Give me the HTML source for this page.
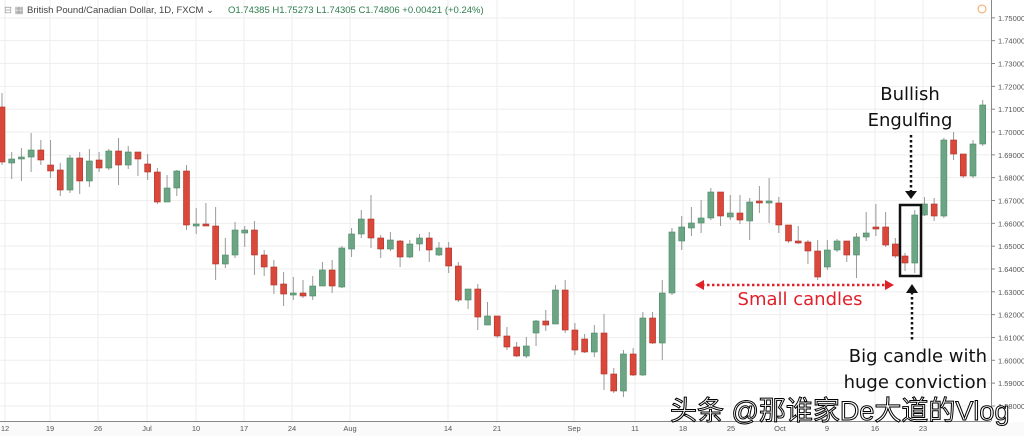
<!DOCTYPE html>
<html><head><meta charset="utf-8"><style>
body{margin:0;background:#fff;width:1024px;height:436px;overflow:hidden}
svg{display:block}
</style></head><body>
<svg id="s" width="1024" height="436" xmlns="http://www.w3.org/2000/svg" font-family="Liberation Sans, sans-serif">
<rect width="1024" height="436" fill="#fff"/>
<g id="grid"></g>
<g id="candles"></g>
<line x1="991.5" y1="0" x2="991.5" y2="421" stroke="#888" stroke-width="1"/>
<line x1="0" y1="421.5" x2="991" y2="421.5" stroke="#888" stroke-width="1"/>
<rect x="0" y="422" width="1024" height="14" fill="#fafafa"/>
<g id="labels" font-size="7.5" fill="#555"></g>
<text x="4" y="13" font-size="9.5" fill="#999">⊟ ▦</text>
<text x="27" y="13" font-size="9.5" fill="#444">British Pound/Canadian Dollar, 1D, FXCM ⌄</text>
<text x="228" y="13" font-size="9.5" fill="#2e7d4f">O1.74385  H1.75273  L1.74305  C1.74806  +0.00421 (+0.24%)</text>
<circle cx="982" cy="9" r="4" fill="none" stroke="#f2a45c" stroke-width="1"/>
<g font-family="DejaVu Sans, sans-serif">
<text x="910" y="100" font-size="18" text-anchor="middle" fill="#111">Bullish</text>
<text x="910" y="126" font-size="18" text-anchor="middle" fill="#111">Engulfing</text>
<text x="800" y="305" font-size="18" text-anchor="middle" fill="#e0202a">Small candles</text>
<text x="987" y="362" font-size="18" text-anchor="end" fill="#111">Big candle with</text>
<text x="987" y="388" font-size="18" text-anchor="end" fill="#111">huge conviction</text>
</g>
<line x1="911" y1="135" x2="911" y2="192" stroke="#111" stroke-width="2.5" stroke-dasharray="2.5,2.5"/>
<polygon points="905,191 917,191 911,199" fill="#111"/>
<rect x="900" y="205" width="21" height="71" fill="none" stroke="#111" stroke-width="2.5"/>
<polygon points="906,293 918,293 912,284" fill="#111"/>
<line x1="912" y1="292" x2="912" y2="342" stroke="#111" stroke-width="2.5" stroke-dasharray="2.5,2.5"/>
<line x1="702" y1="285" x2="887" y2="285" stroke="#e0202a" stroke-width="2.5" stroke-dasharray="2.5,2.5"/>
<polygon points="695,285 704,280 704,290" fill="#e0202a"/>
<polygon points="894,285 885,280 885,290" fill="#e0202a"/>
<text x="670" y="420" font-size="27" fill="#fff" stroke="#000" stroke-width="1" font-family="Liberation Sans, Noto Sans CJK SC, sans-serif">头条 @那谁家De大道的Vlog</text>
</svg>
<script>
const NS="http://www.w3.org/2000/svg";
function el(p,t,a,txt){const e=document.createElementNS(NS,t);for(const k in a)e.setAttribute(k,a[k]);if(txt)e.textContent=txt;p.appendChild(e);return e;}
const g=document.getElementById('grid'),L=document.getElementById('labels'),C=document.getElementById('candles');
const yp=p=>132+(1.70-p)*2283;
for(let i=0;i<=17;i++){const p=1.75-i*0.01;const y=yp(p);
 el(g,'line',{x1:0,y1:y,x2:991,y2:y,stroke:'#eeeeee','stroke-width':1});
 el(L,'line',{x1:991,y1:y,x2:995,y2:y,stroke:'#888'});
 el(L,'text',{x:998,y:y+3},p.toFixed(5));}
const dl=[[5,'12'],[50,'19'],[98,'26'],[147,'Jul'],[196,'10'],[244,'17'],[292,'24'],[350,'Aug'],[448,'14'],[497,'21'],[574,'Sep'],[635,'11'],[683,'18'],[731,'25'],[780,'Oct'],[827,'9'],[875,'16'],[923,'23']];
dl.forEach(([x,t])=>{el(g,'line',{x1:x,y1:0,x2:x,y2:421,stroke:'#eeeeee'});el(L,'text',{x:x,y:431,'text-anchor':'middle'},t);});
const d=[
['r',107,162,93,165],['g',163,159,152,179],['g',159,157,148,181],['g',157,150,133,172],['r',150,160,140,165],['r',165,171,140,178],['r',170,190,163,196],['g',190,158,155,193],['r',158,181,152,194],['g',181,161,149,187],
['r',160,168,152,172],['g',168,151,149,170],['r',151,165,138,185],['g',165,152,146,169],['r',152,159,152,176],['r',164,172,154,180],['r',172,202,168,204],['g',202,188,175,202],['g',188,171,170,196],['r',171,225,165,230],
['g',226,224,208,234],['r',224,226,203,226],['r',226,264,207,280],['g',264,255,238,268],['g',255,230,222,258],['g',233,230,226,247],['r',230,255,221,275],['r',255,267,250,276],['r',267,285,260,294],['r',284,294,272,306],
['g',295,293,277,300],['r',293,296,280,298],['g',296,286,276,300],['g',286,270,262,286],['r',270,286,260,293],['g',287,248,246,288],['g',249,234,228,257],['g',234,219,210,238],['r',219,238,195,248],['r',238,249,235,258],
['g',249,240,232,251],['r',241,257,240,267],['g',257,244,240,258],['g',244,238,234,251],['r',238,250,232,262],['g',255,248,242,256],['r',248,266,242,273],['r',266,300,262,302],['g',300,289,289,309],['r',289,317,284,330],
['g',325,316,302,325],['r',316,336,316,338],['r',336,347,327,350],['r',347,356,342,357],['g',356,346,337,358],['g',333,321,320,346],['r',321,325,310,331],['g',324,290,285,324],['r',290,330,280,333],['r',330,350,323,355],
['r',339,352,334,353],['g',352,333,325,357],['r',333,374,314,390],['r',374,391,368,393],['g',391,354,350,397],['r',354,375,348,376],['g',375,318,312,376],['r',318,343,312,344],['g',343,293,280,360],['g',293,232,228,295],
['g',241,227,216,250],['g',228,223,207,236],['g',223,218,200,233],['g',218,192,188,220],['r',192,216,192,226],['g',217,213,195,220],['r',213,220,195,224],['g',221,202,198,240],['r',201,203,186,213],['g',203,201,178,223],
['r',203,225,197,233],['r',225,241,225,243],['r',241,243,226,244],['r',242,251,240,264],['r',251,277,240,280],['g',267,250,240,270],['g',250,241,239,252],['r',241,255,241,262],['g',255,237,233,278],['g',237,233,212,241],
['r',227,229,204,236],['r',227,245,212,247],['r',244,256,238,258],['r',256,263,253,271],['g',263,215,210,273],['g',215,204,197,216],['r',204,216,198,221],['g',216,140,138,218],['r',140,154,132,160],['r',154,176,154,178],
['g',176,144,140,178],['g',144,105,100,146]];
d.forEach((c,i)=>{const x=2+9.71*i;const col=c[0]=='g'?'#6ba583':'#d9483b';const st=c[0]=='g'?'#4f8a69':'#b03328';
 el(C,'line',{x1:x,y1:c[3],x2:x,y2:c[4],stroke:'#999','stroke-width':1});
 const t=Math.min(c[1],c[2]),b=Math.max(c[1],c[2]);
 el(C,'rect',{x:x-3,y:t,width:6,height:Math.max(b-t,1.5),fill:col,stroke:st,'stroke-width':0.6});});
</script>
</body></html>
